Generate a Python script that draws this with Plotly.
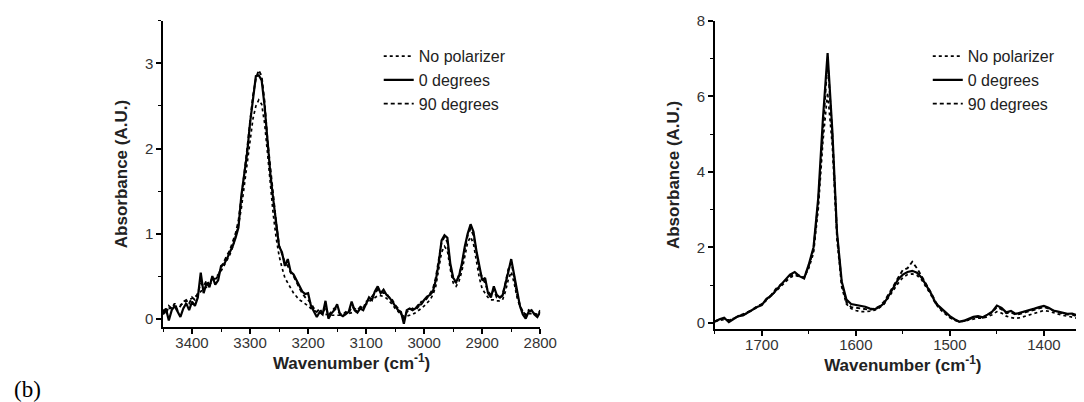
import plotly.graph_objects as go

# ---------------- data: left panel (N-H / C-H stretch region) ----------------
wn_left = list(range(3450, 2795, -5))

nopol_left = [
    0.10, 0.10, 0.12, 0.12, 0.14, 0.15, 0.16, 0.18, 0.20, 0.21,
    0.23, 0.25, 0.28, 0.32, 0.34, 0.37, 0.40, 0.44, 0.47, 0.52,
    0.56, 0.62, 0.68, 0.75, 0.84, 0.96, 1.10, 1.30, 1.55, 1.82,
    2.10, 2.35, 2.50, 2.57, 2.52, 2.30, 1.95, 1.55, 1.22, 0.95,
    0.74, 0.60, 0.48, 0.42, 0.36, 0.30, 0.26, 0.22, 0.20, 0.18,
    0.15, 0.12, 0.10, 0.08, 0.07, 0.06, 0.05, 0.05, 0.04, 0.04,
    0.04, 0.04, 0.05, 0.05, 0.06, 0.07, 0.08, 0.10, 0.12, 0.14,
    0.17, 0.20, 0.22, 0.25, 0.27, 0.27, 0.26, 0.24, 0.21, 0.17,
    0.12, 0.08, 0.05, 0.03, 0.03, 0.04, 0.05, 0.07, 0.09, 0.12,
    0.15, 0.18, 0.22, 0.28, 0.38, 0.58, 0.78, 0.85, 0.80, 0.58,
    0.42, 0.38, 0.44, 0.56, 0.74, 0.90, 0.96, 0.88, 0.68, 0.48,
    0.35, 0.30, 0.25, 0.22, 0.22, 0.21, 0.21, 0.22, 0.32, 0.46,
    0.55, 0.42, 0.25, 0.14, 0.08, 0.05, 0.06, 0.06, 0.06, 0.05,
    0.06,
]

deg0_left = [
    0.05, 0.12, -0.02, 0.10, 0.15, 0.08, 0.02, 0.12, 0.18, 0.10,
    0.20, 0.15, 0.25, 0.54, 0.30, 0.42, 0.37, 0.50, 0.40, 0.45,
    0.62, 0.64, 0.70, 0.78, 0.85, 0.95, 1.07, 1.45, 1.68, 1.95,
    2.30, 2.60, 2.85, 2.86, 2.80, 2.50, 2.05, 1.70, 1.40, 1.15,
    0.85, 0.78, 0.62, 0.70, 0.55, 0.52, 0.45, 0.38, 0.32, 0.29,
    0.30, 0.15, 0.08, 0.02, 0.08, 0.05, 0.21, 0.00, 0.06, 0.10,
    0.17, 0.05, 0.03, 0.05, 0.08, 0.20, 0.10, 0.07, 0.12, 0.10,
    0.18, 0.25, 0.22, 0.32, 0.38, 0.30, 0.34, 0.28, 0.25, 0.20,
    0.14, 0.10, 0.08, -0.06, 0.10, 0.12, 0.10, 0.12, 0.16, 0.17,
    0.22, 0.26, 0.28, 0.32, 0.45, 0.65, 0.92, 0.98, 0.95, 0.65,
    0.48, 0.43, 0.50, 0.65, 0.85, 1.00, 1.11, 1.02, 0.80, 0.60,
    0.45, 0.48, 0.30, 0.25, 0.38, 0.28, 0.25, 0.27, 0.40, 0.55,
    0.70, 0.52, 0.30, 0.15, 0.05, 0.00, 0.08, 0.10, 0.05, 0.02,
    0.08,
]

deg90_left = [
    0.10, 0.05, 0.15, 0.12, 0.18, 0.10, 0.15, 0.20, 0.22, 0.18,
    0.25, 0.22, 0.30, 0.42, 0.38, 0.45, 0.40, 0.48, 0.46, 0.50,
    0.60, 0.68, 0.74, 0.80, 0.90, 1.00, 1.15, 1.40, 1.70, 2.00,
    2.35, 2.62, 2.82, 2.92, 2.85, 2.55, 2.10, 1.75, 1.42, 1.12,
    0.86, 0.75, 0.66, 0.62, 0.54, 0.50, 0.42, 0.36, 0.30, 0.25,
    0.22, 0.18, 0.12, 0.08, 0.12, 0.06, 0.14, 0.04, 0.08, 0.12,
    0.10, 0.06, 0.05, 0.08, 0.06, 0.14, 0.12, 0.10, 0.14, 0.12,
    0.20, 0.22, 0.26, 0.30, 0.34, 0.32, 0.30, 0.30, 0.24, 0.22,
    0.16, 0.12, 0.06, 0.00, 0.08, 0.10, 0.12, 0.10, 0.14, 0.20,
    0.20, 0.24, 0.30, 0.35, 0.48, 0.68, 0.90, 0.96, 0.90, 0.62,
    0.46, 0.42, 0.52, 0.62, 0.82, 0.98, 1.06, 0.98, 0.78, 0.58,
    0.48, 0.42, 0.32, 0.28, 0.34, 0.25, 0.24, 0.28, 0.42, 0.58,
    0.66, 0.50, 0.28, 0.16, 0.08, 0.04, 0.10, 0.08, 0.06, 0.04,
    0.10,
]

# ---------------- data: right panel (amide region) ----------------
wn_right = list(range(1750, 1345, -5))

nopol_right = [
    0.05, 0.07, 0.09, 0.08, 0.12, 0.16, 0.21, 0.27, 0.34, 0.42,
    0.49, 0.60, 0.72, 0.85, 0.98, 1.10, 1.20, 1.26, 1.24, 1.20,
    1.45, 1.85, 3.00, 4.80, 6.10, 4.70, 2.20, 0.95, 0.50, 0.38,
    0.33, 0.30, 0.30, 0.31, 0.34, 0.40, 0.50, 0.68, 0.88, 1.05,
    1.20, 1.28, 1.30, 1.26, 1.14, 0.95, 0.74, 0.50, 0.35, 0.24,
    0.14, 0.07, 0.04, 0.05, 0.08, 0.11, 0.13, 0.13, 0.16, 0.22,
    0.30, 0.26, 0.18, 0.14, 0.12, 0.14, 0.18, 0.22, 0.27, 0.31,
    0.33, 0.31, 0.27, 0.23, 0.20, 0.18, 0.16, 0.13, 0.10, 0.07,
    0.04,
]

deg0_right = [
    0.03, 0.10, 0.14, 0.02, 0.10, 0.18, 0.20, 0.28, 0.36, 0.42,
    0.47, 0.64, 0.72, 0.86, 1.00, 1.15, 1.28, 1.35, 1.24, 1.18,
    1.55, 2.00, 3.30, 5.40, 7.15, 5.10, 2.40, 1.10, 0.62, 0.50,
    0.48, 0.45, 0.43, 0.38, 0.36, 0.42, 0.52, 0.72, 0.92, 1.15,
    1.28, 1.35, 1.38, 1.33, 1.20, 1.00, 0.78, 0.52, 0.40, 0.28,
    0.18, 0.10, 0.03, 0.06, 0.12, 0.16, 0.18, 0.15, 0.22, 0.30,
    0.46, 0.40, 0.28, 0.32, 0.24, 0.27, 0.30, 0.34, 0.38, 0.42,
    0.45, 0.40, 0.33, 0.30, 0.26, 0.24, 0.25, 0.20, 0.15, 0.10,
    0.06,
]

deg90_right = [
    0.05, 0.08, 0.12, 0.06, 0.12, 0.16, 0.22, 0.30, 0.35, 0.44,
    0.50, 0.62, 0.74, 0.90, 1.02, 1.12, 1.24, 1.30, 1.26, 1.20,
    1.50, 1.95, 3.20, 5.20, 6.95, 5.00, 2.35, 1.05, 0.55, 0.42,
    0.40, 0.38, 0.36, 0.35, 0.38, 0.44, 0.56, 0.76, 0.98, 1.20,
    1.40, 1.45, 1.62, 1.45, 1.25, 1.02, 0.80, 0.55, 0.38, 0.26,
    0.15, 0.08, 0.04, 0.05, 0.10, 0.14, 0.16, 0.14, 0.20, 0.28,
    0.42, 0.36, 0.26, 0.28, 0.22, 0.24, 0.28, 0.32, 0.36, 0.40,
    0.42, 0.38, 0.32, 0.28, 0.25, 0.22, 0.22, 0.18, 0.14, 0.10,
    0.05,
]

series_names = ["No polarizer", "0 degrees", "90 degrees"]
series_dash = ["dot", "solid", "4px,3px"]
series_width = [1.7, 2.2, 1.9]

assert len(wn_left) == len(nopol_left) == len(deg0_left) == len(deg90_left)
assert len(wn_right) == len(nopol_right) == len(deg0_right) == len(deg90_right)

FONT = "Arial, Liberation Sans, sans-serif"

fig = go.Figure()

for name, dash, w, ys in zip(series_names, series_dash, series_width,
                             [nopol_left, deg0_left, deg90_left]):
    fig.add_trace(go.Scatter(x=wn_left, y=ys, mode="lines", name=name,
                             line=dict(color="black", dash=dash, width=w),
                             xaxis="x", yaxis="y", legend="legend"))

for name, dash, w, ys in zip(series_names, series_dash, series_width,
                             [nopol_right, deg0_right, deg90_right]):
    fig.add_trace(go.Scatter(x=wn_right, y=ys, mode="lines", name=name,
                             line=dict(color="black", dash=dash, width=w),
                             xaxis="x2", yaxis="y2", legend="legend2"))

axis_common = dict(
    showline=True, linecolor="black", linewidth=1.5,
    ticks="outside", ticklen=5, tickwidth=1.5, tickcolor="black",
    showgrid=False, zeroline=False,
    tickfont=dict(family=FONT, size=15, color="#333"),
)
xtitle = dict(text="<b>Wavenumber (cm<sup>-1</sup>)</b>",
              font=dict(family=FONT, size=17, color="#222"), standoff=0)
ytitle = dict(text="<b>Absorbance (A.U.)</b>",
              font=dict(family=FONT, size=17, color="#222"), standoff=13)
minor_x = dict(ticks="outside", ticklen=3, dtick=50, tickcolor="black", tickwidth=1.2)

fig.update_layout(
    width=1084, height=402,
    margin=dict(l=0, r=0, t=0, b=0),
    paper_bgcolor="white", plot_bgcolor="white",
    font=dict(family=FONT, color="#222"),
    xaxis=dict(domain=[0.143, 0.491], range=[3450, 2800], dtick=100, minor=minor_x,
               ticklabelstandoff=-4,
               title=xtitle, anchor="y", automargin=False, **axis_common),
    yaxis=dict(domain=[0.206, 0.968], range=[-0.1, 3.5], dtick=1,
               minor=dict(ticks="outside", ticklen=3, dtick=0.5, tickcolor="black", tickwidth=1.2),
               title=ytitle, anchor="x", automargin=False, **axis_common),
    xaxis2=dict(domain=[0.652, 0.999], range=[1750, 1350], dtick=100, minor=minor_x,
                ticklabelstandoff=-4,
                title=xtitle, anchor="y2", automargin=False, **axis_common),
    yaxis2=dict(domain=[0.2015, 0.968], range=[-0.16, 8], dtick=2,
                minor=dict(ticks="outside", ticklen=3, dtick=1, tickcolor="black", tickwidth=1.2),
                title=ytitle, anchor="x2", automargin=False, **axis_common),
    legend=dict(x=0.342, y=0.9225, xanchor="left", yanchor="top",
                bgcolor="rgba(0,0,0,0)", font=dict(family=FONT, size=16, color="#222"),
                tracegroupgap=0),
    legend2=dict(x=0.8485, y=0.9225, xanchor="left", yanchor="top",
                 bgcolor="rgba(0,0,0,0)", font=dict(family=FONT, size=16, color="#222"),
                 tracegroupgap=0),
    annotations=[dict(text="(b)", x=0.004, y=0.05, xref="paper", yref="paper",
                      xanchor="left", yanchor="middle", showarrow=False,
                      font=dict(family="Liberation Serif, Times New Roman, serif", size=23, color="black"))],
)

fig.write_html("out.html")
